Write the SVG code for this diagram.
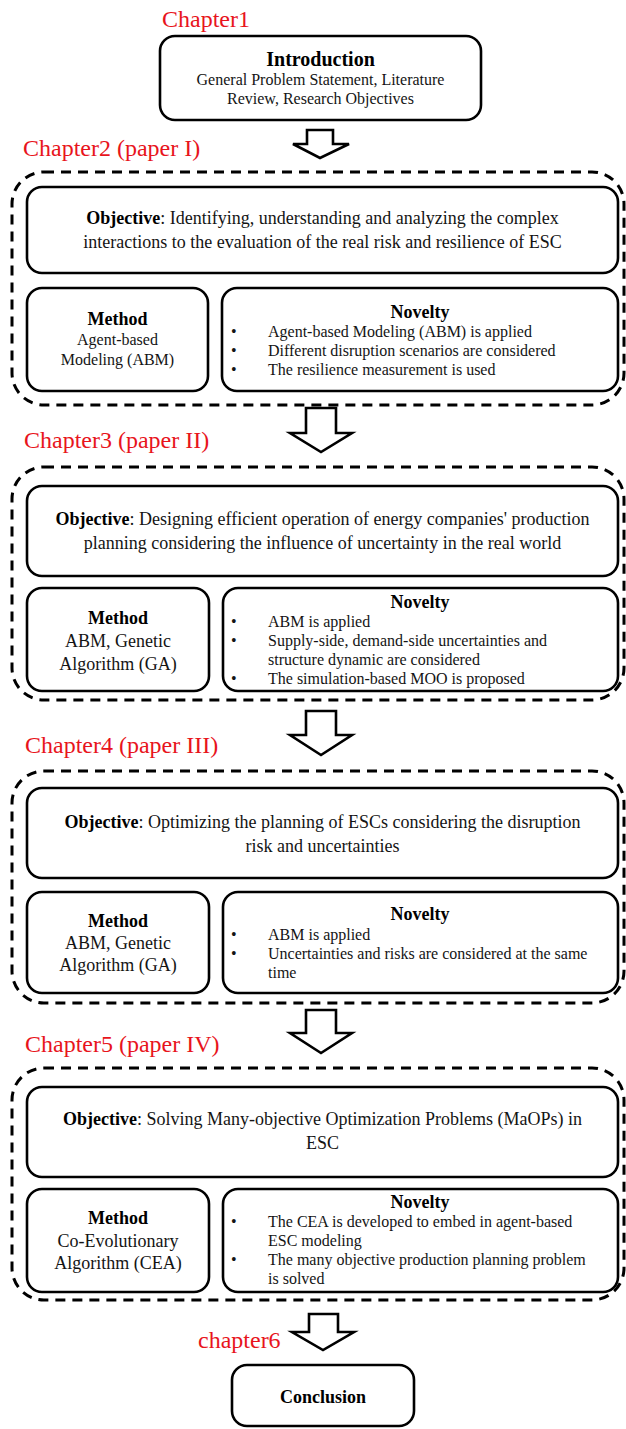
<svg xmlns="http://www.w3.org/2000/svg" width="626" height="1429" viewBox="0 0 626 1429">
  <style>
    .box { fill: #ffffff; stroke: #000000; stroke-width: 2.6; }
    .group { fill: none; stroke: #000000; stroke-width: 3; stroke-dasharray: 10 7; }
    .arrow { fill: #ffffff; stroke: #000000; stroke-width: 2.6; stroke-linejoin: miter; }
    text { font-family: "Liberation Serif", "Times New Roman", serif; fill: #141414; }
    .chap { font-size: 24px; fill: #e8141c; }
    .title { font-size: 18px; font-weight: bold; text-anchor: middle; fill: #000000; }
    .obj { font-size: 18px; text-anchor: middle; }
    .obj tspan.b { font-weight: bold; fill: #000000; }
    .m16 { font-size: 16px; text-anchor: middle; }
    .m18 { font-size: 18px; text-anchor: middle; }
    .nov { font-size: 16px; }
  </style>

  <!-- chapter labels -->
  <g id="labels">
    <text class="chap" x="162" y="27">Chapter1</text>
    <text class="chap" x="23" y="156">Chapter2 (paper I)</text>
    <text class="chap" x="24" y="448">Chapter3 (paper II)</text>
    <text class="chap" x="25" y="753">Chapter4 (paper III)</text>
    <text class="chap" x="25" y="1052">Chapter5 (paper IV)</text>
    <text class="chap" x="198" y="1348">chapter6</text>
  </g>

  <!-- flow arrows between chapters -->
  <g id="connectors">
    <polygon class="arrow" points="307,130 333,130 333,144 349,144 320,158 293,144 307,144"/>
    <polygon class="arrow" points="306,408 336,408 336,433 352,433 321,452 290,433 306,433"/>
    <polygon class="arrow" points="306,711 336,711 336,735 352,735 321,755 290,735 306,735"/>
    <polygon class="arrow" points="306,1010 336,1010 336,1033 352,1033 321,1053 290,1033 306,1033"/>
    <polygon class="arrow" points="309,1314 338,1314 338,1332 354,1332 323,1350 292,1332 309,1332"/>
  </g>

  <!-- Chapter 1 -->
  <g id="introduction">
    <rect class="box" x="160" y="36" width="321" height="84" rx="15"/>
    <text x="320.5" y="66" style="font-size:20px;font-weight:bold;text-anchor:middle;fill:#000">Introduction</text>
    <text class="m16" x="320.5" y="85">General Problem Statement, Literature</text>
    <text class="m16" x="320.5" y="104">Review, Research Objectives</text>
  </g>

  <!-- Chapter 2 -->
  <g id="paper1">
    <rect class="group" x="12" y="172" width="612" height="233" rx="32"/>
    <g id="paper1-objective">
      <rect class="box" x="27" y="187" width="591" height="86" rx="15"/>
      <text class="obj" x="322.5" y="224"><tspan class="b">Objective</tspan>: Identifying, understanding and analyzing the complex</text>
      <text class="obj" x="322.5" y="248">interactions to the evaluation of the real risk and resilience of ESC</text>
    </g>
    <g id="paper1-method">
      <rect class="box" x="27" y="288" width="181" height="103" rx="15"/>
      <text class="title" x="117.5" y="325">Method</text>
      <text class="m16" x="117.5" y="345">Agent-based</text>
      <text class="m16" x="117.5" y="365">Modeling (ABM)</text>
    </g>
    <g id="paper1-novelty">
      <rect class="box" x="222" y="288" width="396" height="103" rx="15"/>
      <text class="title" x="420" y="318">Novelty</text>
      <text class="nov" x="231" y="337">•</text>
      <text class="nov" x="268" y="337">Agent-based Modeling (ABM) is applied</text>
      <text class="nov" x="231" y="356">•</text>
      <text class="nov" x="268" y="356">Different disruption scenarios are considered</text>
      <text class="nov" x="231" y="375">•</text>
      <text class="nov" x="268" y="375">The resilience measurement is used</text>
    </g>
  </g>

  <!-- Chapter 3 -->
  <g id="paper2">
    <rect class="group" x="12" y="467" width="612" height="233" rx="32"/>
    <g id="paper2-objective">
      <rect class="box" x="27" y="486" width="591" height="90" rx="15"/>
      <text class="obj" x="322.5" y="525"><tspan class="b">Objective</tspan>: Designing efficient operation of energy companies' production</text>
      <text class="obj" x="322.5" y="549">planning considering the influence of uncertainty in the real world</text>
    </g>
    <g id="paper2-method">
      <rect class="box" x="27" y="588" width="182" height="103" rx="15"/>
      <text class="title" x="118" y="624">Method</text>
      <text class="m18" x="118" y="647">ABM, Genetic</text>
      <text class="m18" x="118" y="670">Algorithm (GA)</text>
    </g>
    <g id="paper2-novelty">
      <rect class="box" x="223" y="588" width="395" height="103" rx="15"/>
      <text class="title" x="420" y="608">Novelty</text>
      <text class="nov" x="231" y="627">•</text>
      <text class="nov" x="268" y="627">ABM is applied</text>
      <text class="nov" x="231" y="646">•</text>
      <text class="nov" x="268" y="646">Supply-side, demand-side uncertainties and</text>
      <text class="nov" x="268" y="665">structure dynamic are considered</text>
      <text class="nov" x="231" y="684">•</text>
      <text class="nov" x="268" y="684">The simulation-based MOO is proposed</text>
    </g>
  </g>

  <!-- Chapter 4 -->
  <g id="paper3">
    <rect class="group" x="12" y="771" width="612" height="232" rx="32"/>
    <g id="paper3-objective">
      <rect class="box" x="27" y="788" width="591" height="90" rx="15"/>
      <text class="obj" x="322.5" y="828"><tspan class="b">Objective</tspan>: Optimizing the planning of ESCs considering the disruption</text>
      <text class="obj" x="322.5" y="852">risk and uncertainties</text>
    </g>
    <g id="paper3-method">
      <rect class="box" x="27" y="892" width="182" height="101" rx="15"/>
      <text class="title" x="118" y="927">Method</text>
      <text class="m18" x="118" y="949">ABM, Genetic</text>
      <text class="m18" x="118" y="971">Algorithm (GA)</text>
    </g>
    <g id="paper3-novelty">
      <rect class="box" x="223" y="892" width="395" height="101" rx="15"/>
      <text class="title" x="420" y="920">Novelty</text>
      <text class="nov" x="231" y="940">•</text>
      <text class="nov" x="268" y="940">ABM is applied</text>
      <text class="nov" x="231" y="959">•</text>
      <text class="nov" x="268" y="959">Uncertainties and risks are considered at the same</text>
      <text class="nov" x="268" y="978">time</text>
    </g>
  </g>

  <!-- Chapter 5 -->
  <g id="paper4">
    <rect class="group" x="12" y="1068" width="612" height="232" rx="32"/>
    <g id="paper4-objective">
      <rect class="box" x="27" y="1087" width="591" height="90" rx="15"/>
      <text class="obj" x="322.5" y="1125"><tspan class="b">Objective</tspan>: Solving Many-objective Optimization Problems (MaOPs) in</text>
      <text class="obj" x="322.5" y="1149">ESC</text>
    </g>
    <g id="paper4-method">
      <rect class="box" x="27" y="1189" width="182" height="103" rx="15"/>
      <text class="title" x="118" y="1224">Method</text>
      <text class="m18" x="118" y="1247">Co-Evolutionary</text>
      <text class="m18" x="118" y="1269">Algorithm (CEA)</text>
    </g>
    <g id="paper4-novelty">
      <rect class="box" x="223" y="1189" width="395" height="103" rx="15"/>
      <text class="title" x="420" y="1208">Novelty</text>
      <text class="nov" x="231" y="1227">•</text>
      <text class="nov" x="268" y="1227">The CEA is developed to embed in agent-based</text>
      <text class="nov" x="268" y="1246">ESC modeling</text>
      <text class="nov" x="231" y="1265">•</text>
      <text class="nov" x="268" y="1265">The many objective production planning problem</text>
      <text class="nov" x="268" y="1284">is solved</text>
    </g>
  </g>

  <!-- Chapter 6 -->
  <g id="conclusion">
    <rect class="box" x="232" y="1365" width="182" height="61" rx="15"/>
    <text class="title" x="323" y="1403">Conclusion</text>
  </g>
</svg>
